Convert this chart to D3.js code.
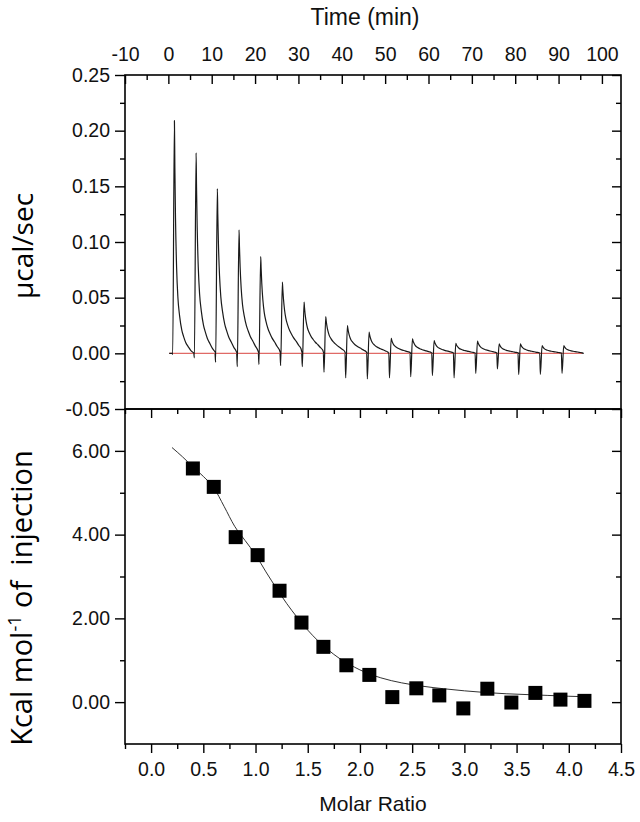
<!DOCTYPE html>
<html><head><meta charset="utf-8">
<script src="https://cdn.jsdelivr.net/npm/d3@7"></script>
<style>body{margin:0;background:#fff}</style>
</head><body><svg id="c" width="640" height="822"></svg>
<script>
// ---- Top panel (raw ITC thermogram) ----
const injectionTimes = [1.4, 6.4, 11.3, 16.3, 21.3, 26.3, 31.3, 36.3, 41.3, 46.3, 51.4, 56.3, 61.3, 66.3, 71.3, 76.3, 81.2, 86.2, 91.2];
const peakHeights = [0.209, 0.180, 0.148, 0.111, 0.087, 0.064, 0.046, 0.033, 0.025, 0.019, 0.0135, 0.013, 0.0115, 0.009, 0.011, 0.0085, 0.0085, 0.007, 0.007];
const dipDepths = [-0.001, -0.004, -0.008, -0.012, -0.010, -0.011, -0.012, -0.017, -0.022, -0.023, -0.022, -0.021, -0.020, -0.022, -0.018, -0.014, -0.019, -0.019, -0.018];
const peakSharpness = [1, 0.85, 0.75, 0.65, 0.6, 0.5, 0.5, 0.5, 0.5, 0.5, 0.5, 0.5, 0.5, 0.5, 0.5, 0.5, 0.5, 0.5, 0.5];
const profileOffsets = [0, 0.1, 0.25, 0.5, 0.8, 1.2, 1.7, 2.1, 2.6, 3.2, 3.8, 4.3, 4.6];
const profileValues = [1, 0.8, 0.58, 0.37, 0.24, 0.16, 0.1, 0.073, 0.047, 0.028, 0.012, 0.004, 0];
const traceStart = 0.2, traceEnd = 95.5;
const timeTicks = [-10, 0, 10, 20, 30, 40, 50, 60, 70, 80, 90, 100];
const powerTicks = [-0.05, 0, 0.05, 0.10, 0.15, 0.20, 0.25];

// ---- Bottom panel (integrated heats) ----
const molarRatio = [0.40, 0.60, 0.81, 1.02, 1.23, 1.44, 1.65, 1.87, 2.09, 2.31, 2.54, 2.76, 2.99, 3.22, 3.45, 3.68, 3.92, 4.15];
const heatPerInjection = [5.58, 5.14, 3.94, 3.51, 2.66, 1.90, 1.32, 0.88, 0.65, 0.12, 0.33, 0.16, -0.15, 0.32, -0.01, 0.22, 0.06, 0.03];
const fitRatio = [0.2, 0.3, 0.4, 0.5, 0.6, 0.7, 0.8, 0.9, 1.0, 1.1, 1.2, 1.3, 1.4, 1.5, 1.6, 1.7, 1.8, 1.9, 2.0, 2.2, 2.4, 2.6, 2.8, 3.0, 3.2, 3.4, 3.6, 3.8, 4.0, 4.15];
const fitHeat = [6.08, 5.86, 5.62, 5.39, 5.12, 4.67, 4.20, 3.86, 3.52, 3.11, 2.72, 2.35, 2.02, 1.72, 1.46, 1.24, 1.05, 0.90, 0.77, 0.58, 0.46, 0.38, 0.32, 0.27, 0.23, 0.20, 0.18, 0.16, 0.14, 0.13];
const ratioTicks = [0, 0.5, 1.0, 1.5, 2.0, 2.5, 3.0, 3.5, 4.0, 4.5];
const heatTicks = [0, 2, 4, 6];

const svg = d3.select("#c");
const L = 125, R = 621, T1 = 75, B1 = 409, B2 = 744;
const xTime = d3.scaleLinear([-10, 104.4], [L, R]);
const yTop = d3.scaleLinear([-0.05, 0.25], [B1, T1]);
const xRatio = d3.scaleLinear([-0.25, 4.5], [L, R]);
const yBot = d3.scaleLinear([-1, 7], [B2, B1]);

const tickFont = "Liberation Sans, Arial, sans-serif";

function drawAxis(axis, transform, labels) {
  const g = svg.append("g").attr("transform", transform).call(axis);
  g.select(".domain").remove();
  g.selectAll(".tick line").attr("stroke", "#000").attr("stroke-width", 1.4);
  g.selectAll(".tick text").attr("fill", "#111").style("font-family", tickFont).style("font-size", "19.5px");
  if (!labels) g.selectAll(".tick text").remove();
  return g;
}
function minorVals(ticks, step) { return ticks.slice(0, -1).map(d => d + step); }

// Top panel axes
drawAxis(d3.axisTop(xTime).tickValues(timeTicks).tickSizeInner(-9).tickSizeOuter(0).tickPadding(14).tickFormat(d => String(d)), `translate(0,${T1})`, true);
drawAxis(d3.axisTop(xTime).tickValues(minorVals(timeTicks, 5)).tickSizeInner(-5).tickSizeOuter(0).tickFormat(""), `translate(0,${T1})`, false);
drawAxis(d3.axisLeft(yTop).tickValues(powerTicks).tickSizeInner(10).tickSizeOuter(0).tickPadding(5).tickFormat(d => d.toFixed(2)), `translate(${L},0)`, true);
drawAxis(d3.axisLeft(yTop).tickValues(minorVals(powerTicks, 0.025)).tickSizeInner(5).tickSizeOuter(0).tickFormat(""), `translate(${L},0)`, false);
drawAxis(d3.axisRight(yTop).tickValues(powerTicks).tickSizeInner(-9).tickSizeOuter(0).tickFormat(""), `translate(${R},0)`, false);
drawAxis(d3.axisRight(yTop).tickValues(minorVals(powerTicks, 0.025)).tickSizeInner(-5).tickSizeOuter(0).tickFormat(""), `translate(${R},0)`, false);

// Bottom panel axes
drawAxis(d3.axisBottom(xRatio).tickValues(ratioTicks).tickSizeInner(9).tickSizeOuter(0).tickPadding(9).tickFormat(d => d.toFixed(1)), `translate(0,${B2})`, true);
drawAxis(d3.axisBottom(xRatio).tickValues([-0.25].concat(minorVals(ratioTicks, 0.25))).tickSizeInner(5).tickSizeOuter(0).tickFormat(""), `translate(0,${B2})`, false);
drawAxis(d3.axisBottom(xRatio).tickValues(ratioTicks).tickSizeInner(9).tickSizeOuter(0).tickFormat(""), `translate(0,${B1})`, false);
drawAxis(d3.axisBottom(xRatio).tickValues([-0.25].concat(minorVals(ratioTicks, 0.25))).tickSizeInner(5).tickSizeOuter(0).tickFormat(""), `translate(0,${B1})`, false);
drawAxis(d3.axisLeft(yBot).tickValues(heatTicks).tickSizeInner(10).tickSizeOuter(0).tickPadding(5).tickFormat(d => d.toFixed(2)), `translate(${L},0)`, true);
drawAxis(d3.axisLeft(yBot).tickValues(minorVals(heatTicks, 1)).tickSizeInner(5).tickSizeOuter(0).tickFormat(""), `translate(${L},0)`, false);
drawAxis(d3.axisRight(yBot).tickValues(heatTicks).tickSizeInner(-9).tickSizeOuter(0).tickFormat(""), `translate(${R},0)`, false);
drawAxis(d3.axisRight(yBot).tickValues(minorVals(heatTicks, 1)).tickSizeInner(-5).tickSizeOuter(0).tickFormat(""), `translate(${R},0)`, false);

// Frames
svg.append("rect").attr("x", L).attr("y", T1).attr("width", R - L).attr("height", B1 - T1)
  .attr("fill", "none").attr("stroke", "#000").attr("stroke-width", 1.6);
svg.append("rect").attr("x", L).attr("y", B1).attr("width", R - L).attr("height", B2 - B1)
  .attr("fill", "none").attr("stroke", "#000").attr("stroke-width", 1.6);

// Thermogram trace built from per-injection values
const trace = [[traceStart, 0]];
injectionTimes.forEach((t0, i) => {
  trace.push([t0 - 0.55, 0]);
  trace.push([t0 - 0.4, dipDepths[i]]);
  trace.push([t0, peakHeights[i]]);
  profileOffsets.forEach((off, k) => {
    if (k === 0) return;
    trace.push([t0 + off, peakHeights[i] * Math.pow(profileValues[k], peakSharpness[i])]);
  });
});
trace.push([traceEnd, 0]);

svg.append("line").attr("x1", xTime(traceStart)).attr("x2", xTime(traceEnd))
  .attr("y1", yTop(0)).attr("y2", yTop(0)).attr("stroke", "#e06a66").attr("stroke-width", 1.3);
svg.append("path").datum(trace)
  .attr("d", d3.line().x(d => xTime(d[0])).y(d => yTop(d[1])).curve(d3.curveMonotoneX))
  .attr("fill", "none").attr("stroke", "#1a1a1a").attr("stroke-width", 1.2);

// Bottom: fit line and squares
const fit = fitRatio.map((r, i) => [r, fitHeat[i]]);
svg.append("path").datum(fit)
  .attr("d", d3.line().x(d => xRatio(d[0])).y(d => yBot(d[1])).curve(d3.curveMonotoneX))
  .attr("fill", "none").attr("stroke", "#333").attr("stroke-width", 1);
const sq = 14;
svg.append("g").selectAll("rect").data(molarRatio.map((r, i) => [r, heatPerInjection[i]])).join("rect")
  .attr("x", d => xRatio(d[0]) - sq / 2).attr("y", d => yBot(d[1]) - sq / 2)
  .attr("width", sq).attr("height", sq).attr("fill", "#000");

// Titles
svg.append("text").attr("x", 365).attr("y", 25).attr("text-anchor", "middle")
  .style("font-family", tickFont).style("font-size", "23px").attr("fill", "#111").text("Time (min)");
svg.append("text").attr("x", 373).attr("y", 811).attr("text-anchor", "middle")
  .style("font-family", tickFont).style("font-size", "21px").attr("fill", "#111").text("Molar Ratio");
svg.append("text").attr("transform", "translate(33,246) rotate(-90)").attr("text-anchor", "middle")
  .style("font-family", "Open Sans, sans-serif").style("font-size", "28px").attr("fill", "#000").text("µcal/sec");
const kt = svg.append("text").attr("transform", "translate(32,598) rotate(-90)").attr("text-anchor", "middle")
  .style("font-family", "Open Sans, sans-serif").style("font-size", "29px").attr("fill", "#000").attr("xml:space", "preserve");
kt.append("tspan").text("Kcal mol");
kt.append("tspan").attr("dy", -11).style("font-size", "18px").text("-1");
kt.append("tspan").attr("dy", 11).text(" of  injection");
</script>
</body></html>
